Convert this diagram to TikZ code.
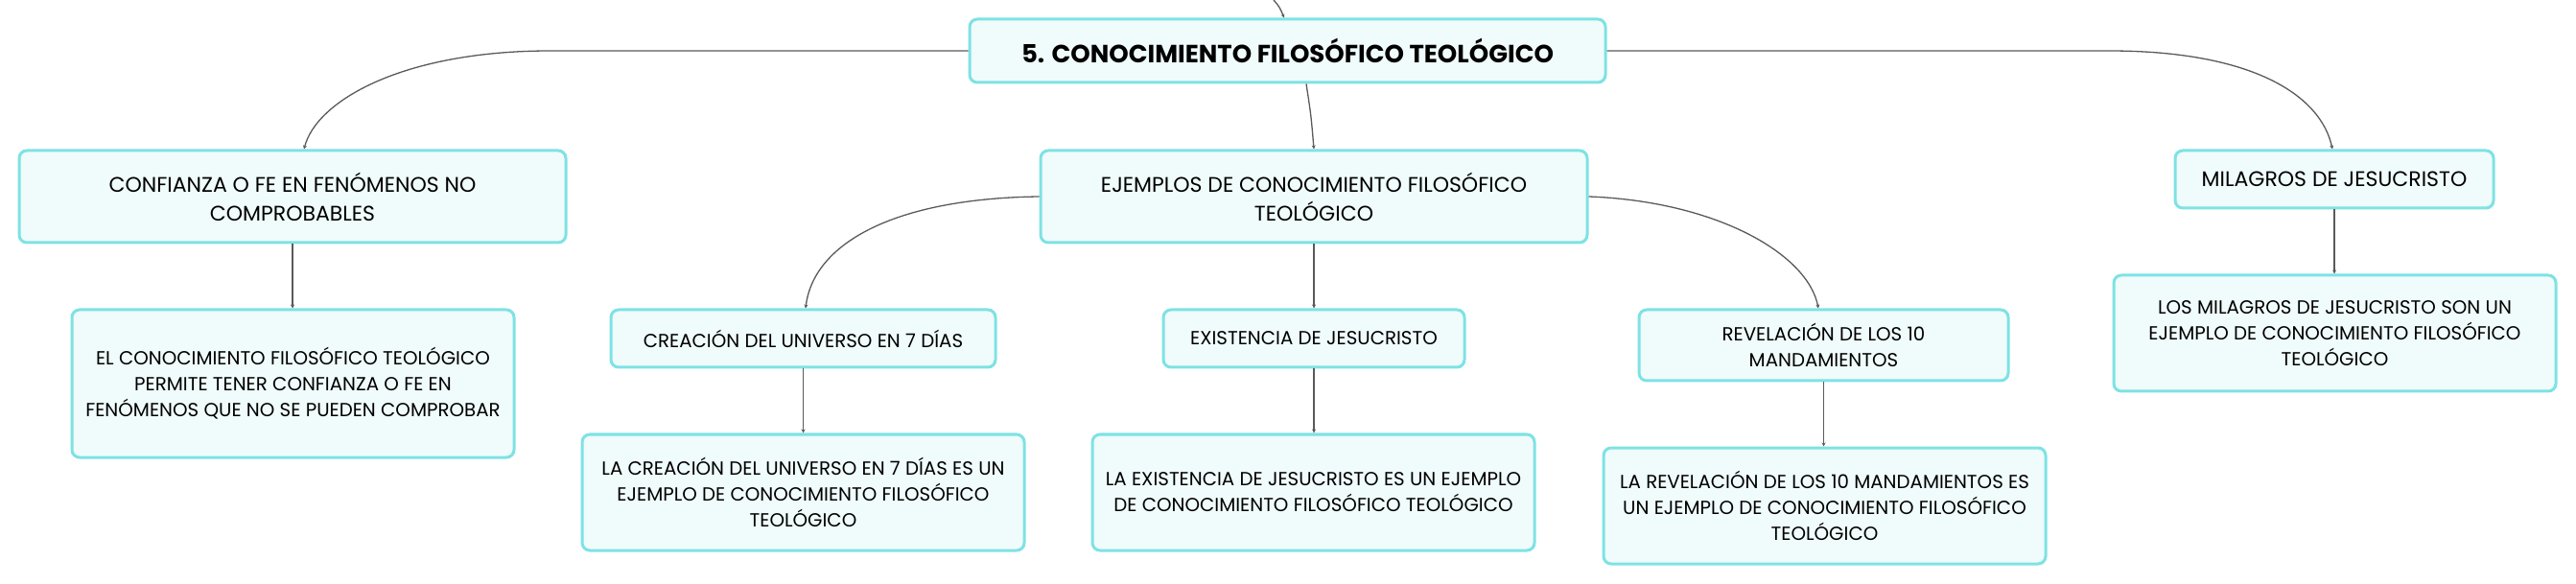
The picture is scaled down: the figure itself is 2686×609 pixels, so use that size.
\documentclass[tikz,border=0pt]{standalone}
\usepackage{fontspec}
\setmainfont{Poppins}
\usetikzlibrary{arrows.meta}
\definecolor{bordc}{HTML}{7EE2E4}
\definecolor{fillc}{HTML}{F0FBFB}
\definecolor{linec}{HTML}{5A5A5A}
\tikzset{
  box/.style={draw=bordc, fill=fillc, line width=3pt, rounded corners=8pt, align=center,
    inner sep=0pt, font=\fontsize{19.8}{27}\selectfont, text=black},
  bigbox/.style={box, font=\fontsize{22}{30}\selectfont},
  rootbox/.style={box, font=\fontsize{26}{30}\selectfont\bfseries},
  conn/.style={draw=linec, line width=1.3pt, -{Stealth[length=4pt,width=4pt]}}
}
\begin{document}
\begin{tikzpicture}[x=1pt,y=-1pt]
\useasboundingbox (0,0) rectangle (2686,609);
\node[rootbox, minimum width=663, minimum height=66] (root) at (1342.5,53) {5. CONOCIMIENTO FILOSÓFICO TEOLÓGICO};
\node[bigbox, minimum width=570, minimum height=96] (ej) at (1370,205) {EJEMPLOS DE CONOCIMIENTO FILOSÓFICO\\TEOLÓGICO};
\node[bigbox, minimum width=570, minimum height=96] (conf) at (305,205) {CONFIANZA O FE EN FENÓMENOS NO\\COMPROBABLES};
\node[box, minimum width=461, minimum height=154] (confc) at (305.5,400) {EL CONOCIMIENTO FILOSÓFICO TEOLÓGICO\\PERMITE TENER CONFIANZA O FE EN\\FENÓMENOS QUE NO SE PUEDEN COMPROBAR};
\node[box, minimum width=401, minimum height=60] (crea) at (837.5,353) {CREACIÓN DEL UNIVERSO EN 7 DÍAS};
\node[box, minimum width=461, minimum height=121] (creac) at (837.5,513.5) {LA CREACIÓN DEL UNIVERSO EN 7 DÍAS ES UN\\EJEMPLO DE CONOCIMIENTO FILOSÓFICO\\TEOLÓGICO};
\node[box, minimum width=314, minimum height=60] (exis) at (1370,353) {EXISTENCIA DE JESUCRISTO};
\node[box, minimum width=461, minimum height=121] (exisc) at (1369.5,513.5) {LA EXISTENCIA DE JESUCRISTO ES UN EJEMPLO\\DE CONOCIMIENTO FILOSÓFICO TEOLÓGICO};
\node[box, minimum width=385, minimum height=74] (rev) at (1901.5,360) {REVELACIÓN DE LOS 10\\MANDAMIENTOS};
\node[box, minimum width=461, minimum height=121] (revc) at (1902.5,527.5) {LA REVELACIÓN DE LOS 10 MANDAMIENTOS ES\\UN EJEMPLO DE CONOCIMIENTO FILOSÓFICO\\TEOLÓGICO};
\node[bigbox, minimum width=332, minimum height=60] (mil) at (2434,187) {MILAGROS DE JESUCRISTO};
\node[box, minimum width=461, minimum height=121] (milc) at (2434.5,347.5) {LOS MILAGROS DE JESUCRISTO SON UN\\EJEMPLO DE CONOCIMIENTO FILOSÓFICO\\TEOLÓGICO};
\coordinate (top) at (1328,0);
% connectors
\draw[conn] (top) .. controls (1334,7) .. ([xshift=-3.5pt]root.north);
\draw[conn] ([xshift=19.5pt]root.south) .. controls (1367,120) .. (ej.north);
\draw[conn] (root.west) -- (574,53) .. controls (420,53) and (330,105) .. ([xshift=12pt]conf.north);
\draw[conn] (root.east) -- (2199,53) .. controls (2350,53) and (2420,100) .. ([xshift=-2pt]mil.north);
\draw[conn] (ej.west) .. controls (930,207) and (848,255) .. ([xshift=2.5pt]crea.north);
\draw[conn] (ej.east) .. controls (1790,210) and (1885,265) .. ([xshift=-5.5pt]rev.north);
\draw[conn] (conf.south) -- (confc.north -| conf.south);
\draw[conn] (crea.south) -- (creac.north);
\draw[conn] (ej.south) -- (exis.north);
\draw[conn] (exis.south) -- (exisc.north -| exis.south);
\draw[conn] (rev.south) -- (revc.north -| rev.south);
\draw[conn] (mil.south) -- (milc.north -| mil.south);
\end{tikzpicture}
\end{document}
